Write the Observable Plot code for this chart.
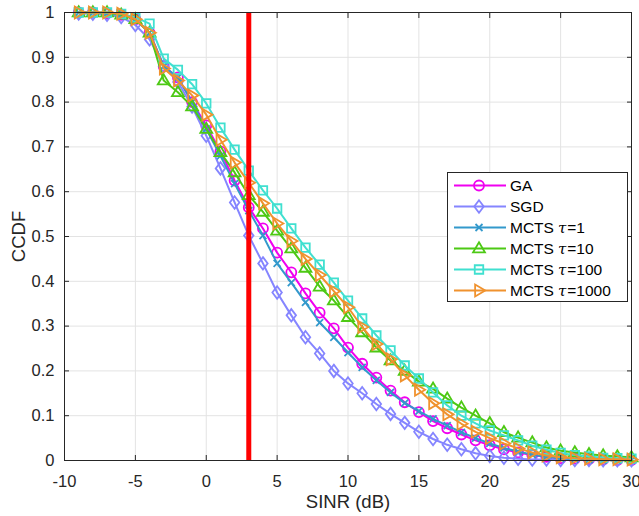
<!DOCTYPE html>
<html><head><meta charset="utf-8">
<script src="https://cdn.jsdelivr.net/npm/d3@7"></script>
<script src="https://cdn.jsdelivr.net/npm/@observablehq/plot@0.6"></script>
<style>
body{margin:0;background:#fff;}
#wrap{position:relative;width:639px;height:516px;font-family:"Liberation Sans",Arial,sans-serif;}
#legend{position:absolute;left:447px;top:172px;width:181px;height:130px;border:1px solid #262626;background:#fff;box-sizing:border-box;padding-top:2px}
.row{display:flex;align-items:center;height:21px;font-size:15.5px;color:#000;white-space:nowrap}
.row svg{margin-left:5px;margin-right:5px;flex:none}
.tau{font-family:"DejaVu Serif","Liberation Serif",serif;font-style:italic;font-size:15px;margin:0 1px 0 4px}
#chart svg g[aria-label="x-axis label"], #chart svg g[aria-label="y-axis label"]{font-size:18.5px}
</style></head><body><div id="wrap"><div id="chart"></div><div id="legend"></div></div>
<script>
// SINR sample points (dB)
const sinr = [-9,-8,-7,-6,-5,-4,-3,-2,-1,0,1,2,3,4,5,6,7,8,9,10,11,12,13,14,15,16,17,18,19,20,21,22,23,24,25,26,27,28,29,30];

const ga = [1.0,1.0,0.998,0.995,0.985,0.955,0.88,0.855,0.80,0.748,0.69,0.625,0.565,0.518,0.464,0.42,0.373,0.33,0.295,0.252,0.216,0.185,0.156,0.13,0.108,0.088,0.072,0.058,0.045,0.034,0.025,0.018,0.012,0.008,0.005,0.004,0.003,0.002,0.001,0.001];
const sgd = [0.998,0.997,0.995,0.99,0.972,0.94,0.88,0.845,0.79,0.725,0.652,0.576,0.502,0.44,0.375,0.324,0.275,0.239,0.2,0.172,0.15,0.126,0.104,0.084,0.064,0.048,0.035,0.025,0.016,0.01,0.006,0.004,0.002,0.002,0.001,0.001,0.001,0.0005,0.0005,0.0005];
const mcts1 = [1.0,1.0,0.998,0.995,0.985,0.955,0.88,0.855,0.80,0.74,0.68,0.618,0.558,0.502,0.44,0.397,0.353,0.308,0.275,0.241,0.208,0.179,0.152,0.128,0.11,0.093,0.078,0.063,0.05,0.038,0.028,0.02,0.013,0.008,0.005,0.003,0.002,0.001,0.001,0.001];
const mcts10 = [1.0,1.0,1.0,0.995,0.985,0.955,0.848,0.822,0.79,0.74,0.688,0.643,0.592,0.555,0.513,0.473,0.43,0.388,0.357,0.32,0.286,0.252,0.223,0.2,0.176,0.16,0.138,0.118,0.1,0.083,0.063,0.051,0.04,0.029,0.022,0.018,0.014,0.011,0.009,0.007];
const mcts100 = [1.0,1.0,1.0,0.997,0.989,0.975,0.897,0.872,0.84,0.797,0.743,0.694,0.647,0.603,0.5625,0.518,0.475,0.437,0.397,0.357,0.317,0.279,0.246,0.212,0.183,0.152,0.123,0.1,0.083,0.067,0.056,0.045,0.033,0.024,0.017,0.012,0.009,0.006,0.005,0.004];
const mcts1000 = [1.0,1.0,1.0,0.997,0.985,0.955,0.875,0.848,0.815,0.772,0.716,0.665,0.62,0.574,0.529,0.49,0.45,0.414,0.378,0.342,0.298,0.26,0.226,0.19,0.158,0.128,0.103,0.082,0.064,0.05,0.038,0.027,0.018,0.011,0.007,0.005,0.004,0.003,0.003,0.002];

const seriesNames = ["GA","SGD","MCTS τ=1","MCTS τ=10","MCTS τ=100","MCTS τ=1000"];
const seriesValues = [ga, sgd, mcts1, mcts10, mcts100, mcts1000];
const seriesColors = ["#f000f0","#8585ff","#3399cc","#4dc914","#40e0d0","#f0922e"];

const xTicks = [-10,-5,0,5,10,15,20,25,30];
const yTicks = [0,0.1,0.2,0.3,0.4,0.5,0.6,0.7,0.8,0.9,1];
const threshold = [3];

// marker shapes (MATLAB-like)
const R = s => Math.sqrt(s/Math.PI);
const symbols = [
  {draw(c,s){const r=R(s); c.moveTo(r,0); c.arc(0,0,r,0,2*Math.PI);}},
  {draw(c,s){const r=R(s); const w=r*0.95,h=r*1.25; c.moveTo(0,-h);c.lineTo(w,0);c.lineTo(0,h);c.lineTo(-w,0);c.closePath();}},
  {draw(c,s){const r=R(s)*0.7; c.moveTo(-r,-r);c.lineTo(r,r);c.moveTo(r,-r);c.lineTo(-r,r);}},
  {draw(c,s){const r=R(s)*1.25; c.moveTo(0,-r);c.lineTo(r*0.95,r*0.62);c.lineTo(-r*0.95,r*0.62);c.closePath();}},
  {draw(c,s){const r=R(s)*0.85; c.rect(-r,-r,2*r,2*r);}},
  {draw(c,s){const r=R(s)*1.25; c.moveTo(r,0);c.lineTo(-r*0.62,r*0.95);c.lineTo(-r*0.62,-r*0.95);c.closePath();}}
];

const seriesMarks = seriesValues.flatMap((vals, k) => [
  Plot.line(vals, {x: (d,i) => sinr[i], y: d => d, stroke: seriesColors[k], strokeWidth: 2}),
  Plot.dot(vals, {x: (d,i) => sinr[i], y: d => d, stroke: seriesColors[k], fill: "none", strokeWidth: 1.8, r: 5, symbol: symbols[k]})
]);

const fmt = d => String(d);
const chart = Plot.plot({
  width: 639, height: 516,
  marginLeft: 64, marginRight: 8, marginTop: 12, marginBottom: 56,
  style: {fontSize: "16.5px", fontFamily: "'Liberation Sans', Arial, sans-serif", color: "#262626", background: "white", overflow: "visible"},
  x: {domain: [-10, 30]},
  y: {domain: [0, 1]},
  marks: [
    Plot.gridX(xTicks, {stroke: "#e3e3e3", strokeOpacity: 1}),
    Plot.gridY(yTicks, {stroke: "#e3e3e3", strokeOpacity: 1}),
    ...seriesMarks,
    Plot.ruleX(threshold, {y1: 0, y2: 1, stroke: "#ff0000", strokeWidth: 5}),
    Plot.frame({stroke: "#262626", strokeWidth: 1}),
    Plot.axisX(xTicks, {anchor: "bottom", tickSize: -5, tickPadding: 20, tickFormat: fmt, label: "SINR (dB)", labelAnchor: "center", labelArrow: "none", labelOffset: 47}),
    Plot.axisX(xTicks, {anchor: "top", tickSize: -5, tickFormat: () => "", label: null}),
    Plot.axisY(yTicks, {anchor: "left", tickSize: -5, tickPadding: 15, tickFormat: fmt, label: "CCDF", labelAnchor: "center", labelArrow: "none", labelOffset: 53}),
    Plot.axisY(yTicks, {anchor: "right", tickSize: -5, tickFormat: () => "", label: null})
  ]
});
document.getElementById("chart").appendChild(chart);

// legend
const legend = document.getElementById("legend");
seriesNames.forEach((name, k) => {
  const row = document.createElement("div");
  row.className = "row";
  const p = d3.path();
  symbols[k].draw(p, Math.PI*25);
  row.innerHTML = `<svg width="52" height="21" viewBox="-26 -10.5 52 21" overflow="visible">
    <line x1="-25" x2="27" y1="0" y2="0" stroke="${seriesColors[k]}" stroke-width="2"/>
    <path d="${p.toString()}" fill="none" stroke="${seriesColors[k]}" stroke-width="1.8"/></svg>`;
  const span = document.createElement("span");
  if (name.includes("τ")) {
    const [a, b] = name.split("τ");
    span.innerHTML = `${a.trim()}<span class="tau">τ</span>${b}`;
  } else span.textContent = name;
  row.appendChild(span);
  legend.appendChild(row);
});
</script></body></html>
